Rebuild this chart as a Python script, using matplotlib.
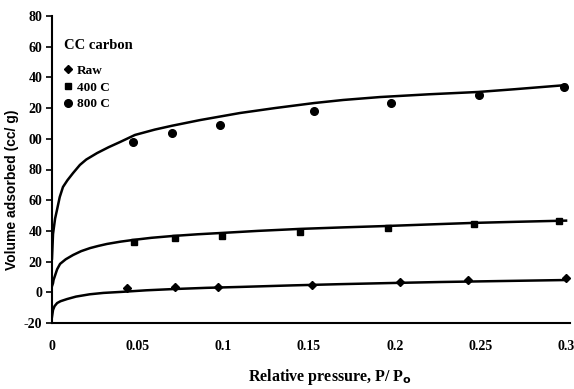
import matplotlib
matplotlib.use("Agg")
import matplotlib.pyplot as plt

pRaw = [0.044, 0.072, 0.097, 0.152, 0.203, 0.243, 0.300]
vRaw = [3.0, 3.5, 3.5, 5.0, 6.5, 8.0, 9.5]

p400 = [0.048, 0.072, 0.099, 0.145, 0.196, 0.246, 0.296]
v400 = [32.8, 35.4, 36.7, 39.3, 41.9, 44.5, 46.5]

p800 = [0.047, 0.070, 0.098, 0.153, 0.198, 0.249, 0.299]
v800 = [97.9, 103.8, 109.0, 118.1, 123.3, 128.5, 133.7]

# fitted curves
pCurvaRaw = [0.0, 0.0006, 0.0015, 0.003, 0.005, 0.0088, 0.014, 0.022, 0.03, 0.041,
             0.055, 0.0706, 0.09, 0.11, 0.14, 0.168, 0.2, 0.2265, 0.26, 0.30]
vCurvaRaw = [-16.0, -11.5, -9.0, -7.0, -5.8, -4.4, -2.8, -1.3, -0.4, 0.3,
             1.3, 2.1, 2.9, 3.5, 4.5, 5.3, 6.1, 6.7, 7.3, 8.0]

pCurva400 = [0.0, 0.0006, 0.0009, 0.0018, 0.003, 0.0047, 0.008, 0.0123, 0.017, 0.0222,
             0.027, 0.0321, 0.04, 0.0473, 0.058, 0.0706, 0.085, 0.098, 0.12, 0.1447,
             0.17, 0.1955, 0.22, 0.2457, 0.27, 0.30]
vCurva400 = [4.0, 6.0, 8.0, 11.0, 15.0, 18.5, 21.5, 24.3, 26.8, 28.8,
             30.2, 31.5, 33.0, 34.1, 35.5, 36.7, 37.8, 38.6, 40.0, 41.3,
             42.3, 43.2, 44.2, 45.2, 45.9, 46.7]

pCurva800 = [0.0, 0.0006, 0.0018, 0.0029, 0.0045, 0.0064, 0.009, 0.0123, 0.0163, 0.02,
             0.0263, 0.033, 0.0397, 0.0484, 0.06, 0.07, 0.0864, 0.1097, 0.13, 0.153,
             0.17, 0.1914, 0.22, 0.2486, 0.27, 0.30]
vCurva800 = [22.0, 38.0, 48.0, 53.6, 62.0, 68.6, 73.0, 77.7, 83.0, 86.5,
             90.7, 94.5, 97.9, 102.5, 106.0, 108.5, 112.2, 116.8, 120.0, 123.3,
             125.3, 127.2, 129.0, 130.5, 132.3, 135.0]

ticksY = [-20, 0, 20, 40, 60, 80, 100, 120, 140, 160, 180]
etiquetasY = ["-20", "0", "20", "40", "60", "80", "00", "20", "40", "60", "80"]
ticksX = [0, 0.05, 0.1, 0.15, 0.2, 0.25, 0.3]
etiquetasX = ["0", "0.05", "0.1", "0.15", "0.2", "0.25", "0.3"]

fig = plt.figure(figsize=(5.74, 3.89), dpi=100)
ax = fig.add_axes([52 / 574, 1 - 323 / 389, 518 / 574, 307 / 389])

ax.plot(pCurvaRaw, vCurvaRaw, color="black", lw=1.8)
ax.plot(pCurva400, vCurva400, color="black", lw=1.8)
ax.plot(pCurva800, vCurva800, color="black", lw=1.8)

hRaw, = ax.plot(pRaw, vRaw, "D", color="black", ms=4, ls="none", label="Raw")
h400, = ax.plot(p400, v400, "s", color="black", ms=4.5, ls="none", label="400 C")
h800, = ax.plot(p800, v800, "o", color="black", ms=5.5, ls="none", label="800 C")

ax.set_xlim(0, 0.3023)
ax.set_ylim(-20, 180)
ax.spines["top"].set_visible(False)
ax.spines["right"].set_visible(False)
ax.spines["left"].set_linewidth(1.5)
ax.spines["bottom"].set_linewidth(1.5)

ax.set_yticks(ticksY)
ax.set_yticklabels(etiquetasY, fontfamily="Liberation Serif", fontweight="bold", fontsize=10)
ax.set_xticks(ticksX)
ax.set_xticklabels(etiquetasX, fontfamily="Liberation Serif", fontweight="bold", fontsize=10)
ax.tick_params(axis="y", direction="out", length=4, width=1.2, pad=3)
ax.tick_params(axis="x", length=0, pad=12)

leg = ax.legend(handles=[hRaw, h400, h800], title="CC carbon", loc="upper left",
                bbox_to_anchor=(0.005, 0.955), frameon=False, alignment="left",
                handlelength=0.6, handletextpad=0.4, labelspacing=0.35,
                borderpad=0.2, markerscale=1.0,
                prop={"family": "Liberation Serif", "weight": "bold", "size": 9.5},
                title_fontproperties={"family": "Liberation Serif", "weight": "bold", "size": 10.5})
leg._legend_box.sep = 9

fig.text(12 / 574, 1 - 190 / 389, "Volume adsorbed (cc/ g)", rotation=90,
         ha="center", va="center", fontsize=10, fontweight="bold", fontfamily="Liberation Sans")
fig.text(330 / 574, 1 - 377 / 389, "Relative pressure, P/ P$_{\\mathbf{o}}$",
         ha="center", va="center", fontsize=11.5, fontweight="bold", fontfamily="Liberation Serif")

fig.savefig("out.png", dpi=100)
